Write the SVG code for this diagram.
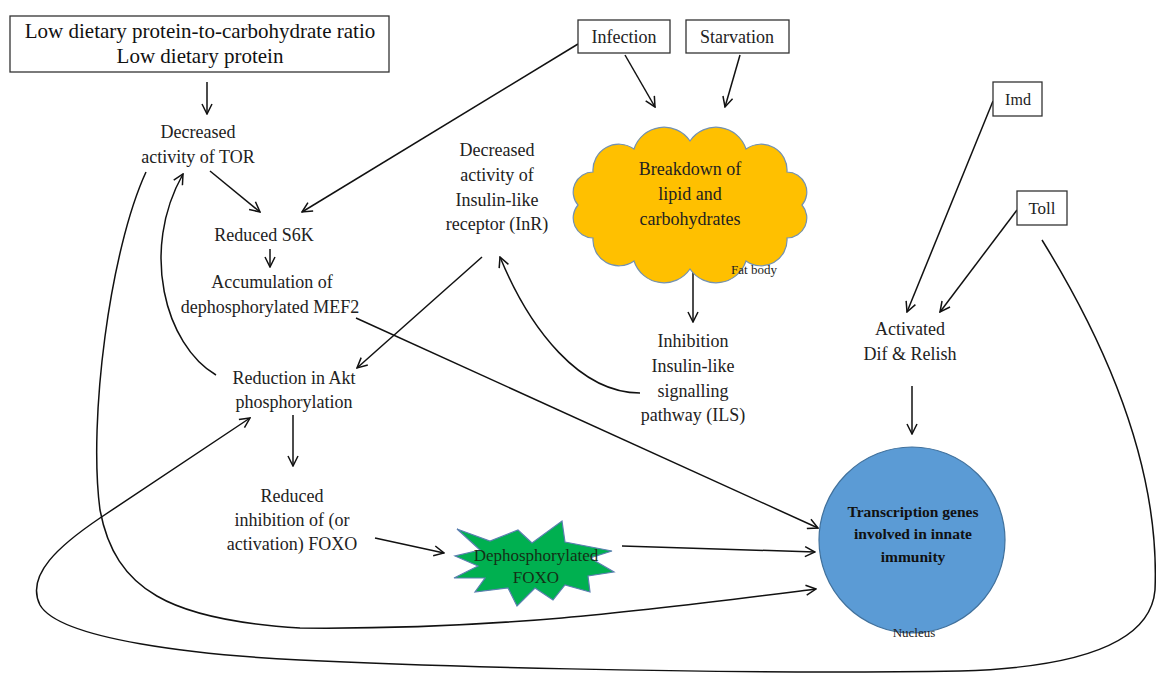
<svg xmlns="http://www.w3.org/2000/svg" width="1156" height="676" viewBox="0 0 1156 676">
<style>
text{font-family:"Liberation Serif","Times New Roman",serif;fill:#222;text-anchor:middle}
.lbl{font-size:18px}
.big{font-size:21px;fill:#111}
.box{fill:#fff;stroke:#333;stroke-width:1.3}
.sm{font-size:13px}
.nuc{font-size:15.5px;font-weight:bold;fill:#111}
.con{fill:none;stroke:#111;stroke-width:1.5}
.arr{marker-end:url(#ah)}
</style>
<defs>
<marker id="ah" viewBox="0 0 12 12" refX="11" refY="6" markerWidth="12" markerHeight="12" markerUnits="userSpaceOnUse" orient="auto">
<path d="M1,1 L11,6 L1,11" fill="none" stroke="#111" stroke-width="1.5"/>
</marker>
</defs>
<rect width="1156" height="676" fill="#fff"/>

<g id="connectors">
<line class="con arr" x1="207" y1="82" x2="207" y2="114"/>
<line class="con arr" x1="210" y1="171" x2="260" y2="212"/>
<line class="con arr" x1="578" y1="44" x2="302" y2="212"/>
<line class="con arr" x1="270" y1="249" x2="270" y2="267"/>
<line class="con arr" x1="356" y1="318" x2="818" y2="528"/>
<path class="con arr" d="M216,375 C165,345 140,250 183,174"/>
<line class="con arr" x1="482" y1="257" x2="357" y2="368"/>
<line class="con arr" x1="625" y1="55" x2="655" y2="107"/>
<line class="con arr" x1="740" y1="55" x2="725" y2="107"/>
<line class="con arr" x1="693" y1="252" x2="693" y2="322"/>
<path class="con arr" d="M640,393 C580,393 530,330 500,257"/>
<line class="con arr" x1="293" y1="415" x2="293" y2="466"/>
<line class="con arr" x1="375" y1="538" x2="444" y2="553"/>
<line class="con arr" x1="622" y1="546" x2="815" y2="552"/>
<path class="con arr" d="M146,172 C110,250 88,420 100,510 C115,590 170,620 300,628 C500,630 650,610 816,589"/>
<path class="con arr" d="M1042,240 C1110,350 1160,470 1155,590 C1150,650 1060,668 960,671 C700,675 400,665 300,660 C200,655 60,640 40,605 C25,575 60,545 100,518 L250,418"/>
<line class="con arr" x1="993" y1="101" x2="907" y2="312"/>
<line class="con arr" x1="1017" y1="210" x2="940" y2="312"/>
<line class="con arr" x1="912" y1="386" x2="912" y2="434"/>
</g>

<g id="n-diet">
<rect class="box" x="10" y="16" width="379" height="56"/>
<text class="big" x="200" y="38">Low dietary protein-to-carbohydrate ratio</text>
<text class="big" x="200" y="63">Low dietary protein</text>
</g>

<g id="n-tor">
<text class="lbl" x="198" y="138">Decreased</text>
<text class="lbl" x="198" y="163">activity of TOR</text>
</g>

<g id="n-s6k">
<text class="lbl" x="264" y="241">Reduced S6K</text>
</g>

<g id="n-mef2">
<text class="lbl" x="272" y="288">Accumulation of</text>
<text class="lbl" x="270" y="313">dephosphorylated MEF2</text>
</g>

<g id="n-akt">
<text class="lbl" x="294" y="384">Reduction in Akt</text>
<text class="lbl" x="294" y="408">phosphorylation</text>
</g>

<g id="n-foxo">
<text class="lbl" x="292" y="502">Reduced</text>
<text class="lbl" x="292" y="526">inhibition of (or</text>
<text class="lbl" x="292" y="550">activation) FOXO</text>
</g>

<g id="n-infection">
<rect class="box" x="578" y="20" width="92" height="33"/>
<text class="lbl" x="624" y="43">Infection</text>
</g>

<g id="n-starvation">
<rect class="box" x="686" y="20" width="103" height="33"/>
<text class="lbl" x="737" y="43">Starvation</text>
</g>

<g id="n-inr">
<text class="lbl" x="497" y="156">Decreased</text>
<text class="lbl" x="497" y="181">activity of</text>
<text class="lbl" x="497" y="206">Insulin-like</text>
<text class="lbl" x="497" y="230">receptor (InR)</text>
</g>

<g id="n-cloud">
<path d="M802,205 A20,20 0 0 1 787,238 A26,26 0 0 1 746,261 A31.5,31.5 0 0 1 690,269 A31.5,31.5 0 0 1 634,261 A26,26 0 0 1 593,238 A20,20 0 0 1 578,205 A20,20 0 0 1 593,172 A26,26 0 0 1 634,149 A31.5,31.5 0 0 1 690,141 A31.5,31.5 0 0 1 746,149 A26,26 0 0 1 787,172 A20,20 0 0 1 802,205 Z" fill="#FFC000" stroke="#7391B0" stroke-width="1.2"/>
<text class="lbl" x="690" y="175">Breakdown of</text>
<text class="lbl" x="690" y="200">lipid and</text>
<text class="lbl" x="690" y="225">carbohydrates</text>
<text class="sm" x="754" y="274">Fat body</text>
</g>

<g id="n-ils">
<text class="lbl" x="693" y="347">Inhibition</text>
<text class="lbl" x="693" y="372">Insulin-like</text>
<text class="lbl" x="693" y="397">signalling</text>
<text class="lbl" x="693" y="421">pathway (ILS)</text>
</g>

<g id="n-dephos">
<polygon points="457,529 490,541 518,530 532,543 562,521 565,542 612,551 590,558 614,572 588,576 590,592 565,585 553,600 535,588 517,606 508,588 475,592 485,578 454,578 478,566 455,556 480,550" fill="#00B050" stroke="#5B7FB0" stroke-width="1.2"/>
<text x="536" y="561" style="font-size:17px;fill:#143016">Dephosphorylated</text>
<text x="536" y="583" style="font-size:17px;fill:#143016">FOXO</text>
</g>

<g id="n-imd">
<rect class="box" x="993" y="82" width="49" height="34"/>
<text x="1018" y="105" style="font-size:16px">Imd</text>
</g>

<g id="n-toll">
<rect class="box" x="1017" y="191" width="50" height="34"/>
<text x="1042" y="214" style="font-size:17px">Toll</text>
</g>

<g id="n-dif">
<text class="lbl" x="910" y="335">Activated</text>
<text class="lbl" x="910" y="360">Dif &amp; Relish</text>
</g>

<g id="n-nucleus">
<circle cx="912" cy="540" r="93" fill="#5B9BD5" stroke="#41719C" stroke-width="1.2"/>
<text class="nuc" x="913" y="517">Transcription genes</text>
<text class="nuc" x="913" y="539">involved in innate</text>
<text class="nuc" x="913" y="562">immunity</text>
<text class="sm" x="914" y="637">Nucleus</text>
</g>
</svg>
